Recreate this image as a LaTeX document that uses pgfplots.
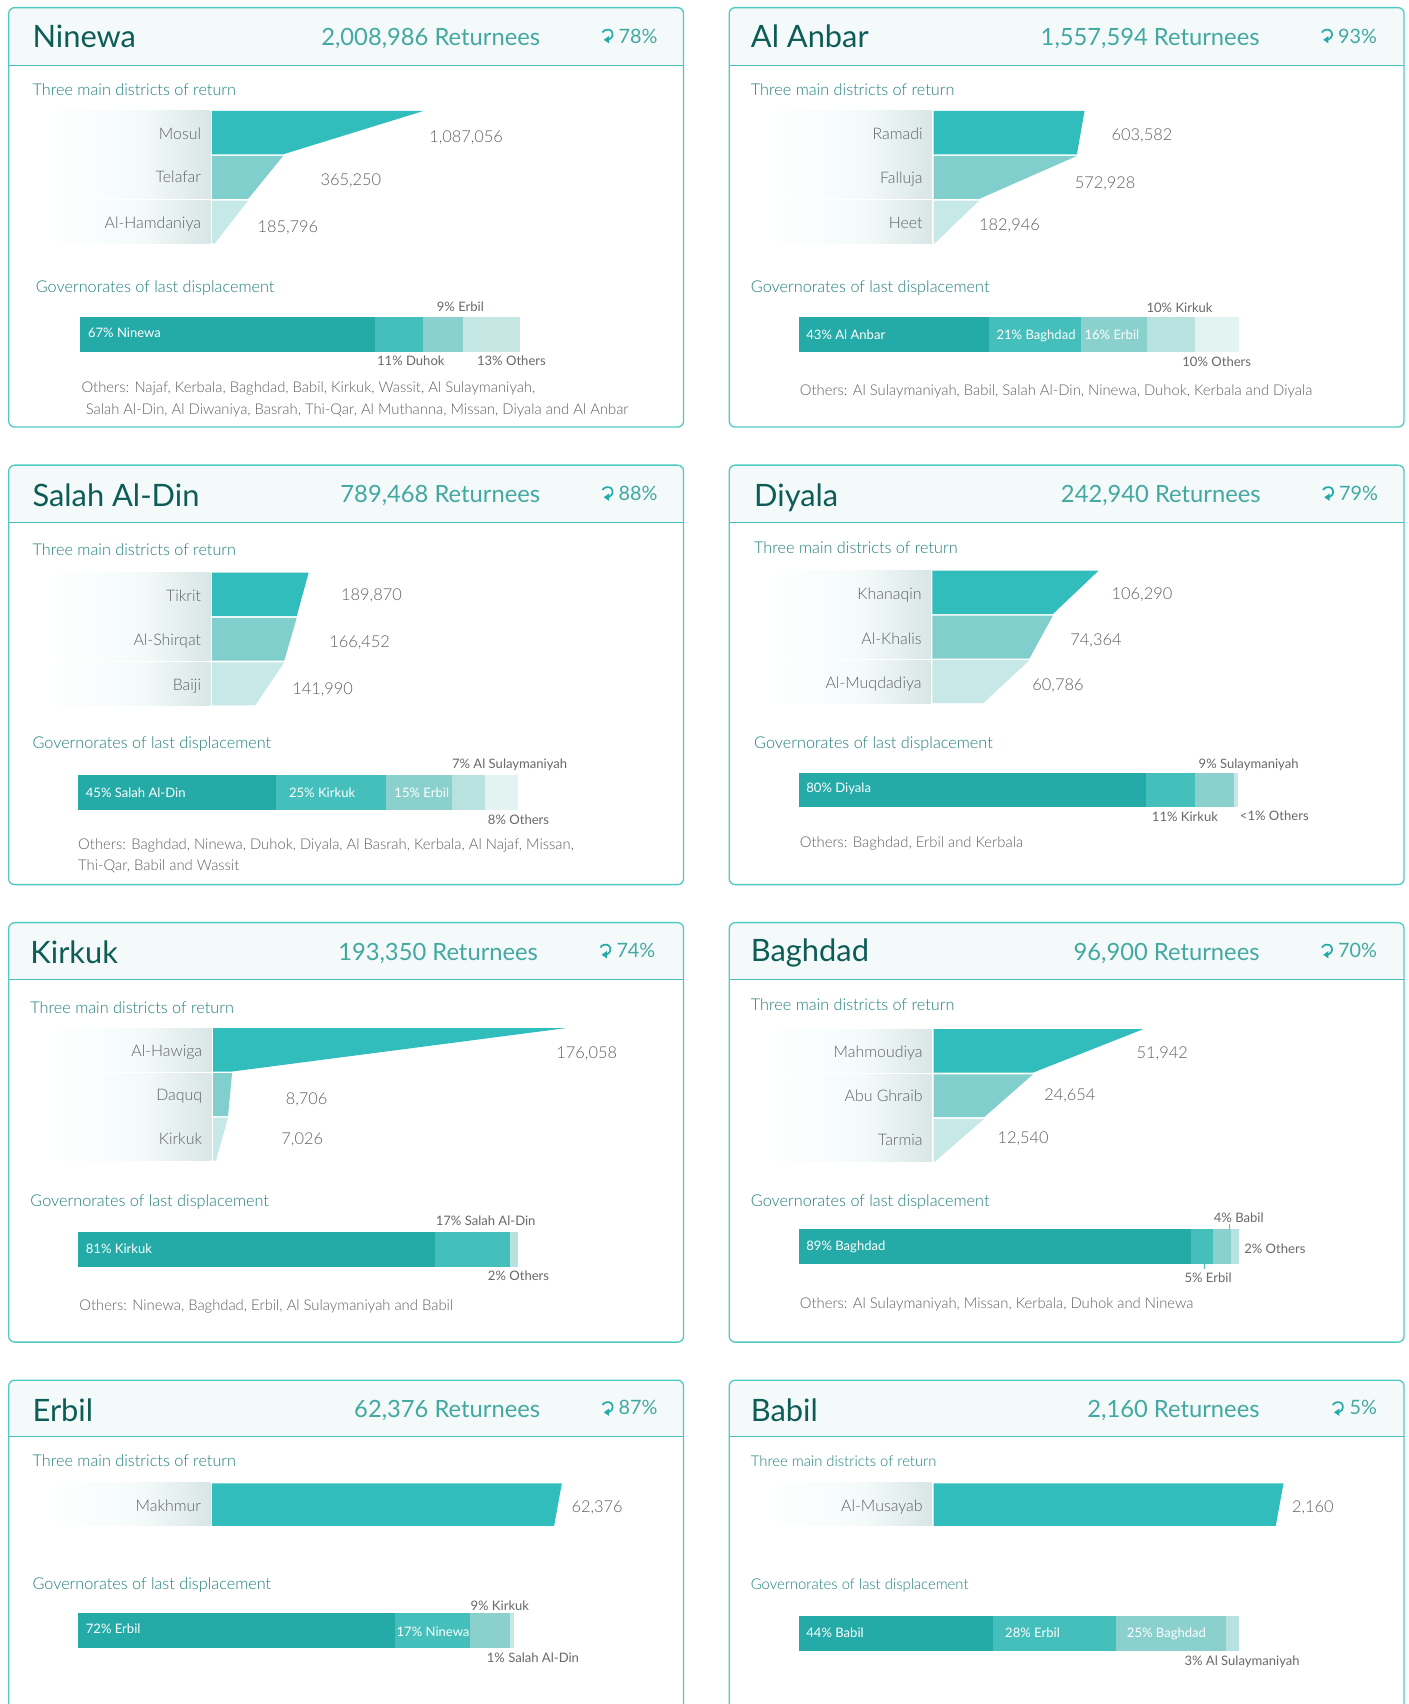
\documentclass[border=0pt]{standalone}
\usepackage{fontspec}
\usepackage{pgfplots}
\pgfplotsset{compat=1.18}
\setmainfont{Lato Light}[Scale=0.92]
\newfontfamily\reg{Lato}[Scale=0.92]
\definecolor{f1}{HTML}{31BDBC}
\definecolor{f2}{HTML}{80CFCD}
\definecolor{f3}{HTML}{C6E9E7}
\definecolor{s1}{HTML}{24ABA8}
\definecolor{s2}{HTML}{45BFBB}
\definecolor{s3}{HTML}{8AD1CE}
\definecolor{s4}{HTML}{B8E2DF}
\definecolor{s5}{HTML}{C6E8E5}
\definecolor{s6}{HTML}{E2F3F1}
\definecolor{hd}{HTML}{F3FAF9}
\definecolor{frm}{HTML}{4FCAC3}
\definecolor{ttlc}{HTML}{0E5C57}
\definecolor{retc}{HTML}{43A8A2}
\definecolor{subc}{HTML}{1F7F7A}
\definecolor{gr}{HTML}{5E6262}
\definecolor{grd}{HTML}{666A6A}
\definecolor{labr}{HTML}{D8E6E5}
\definecolor{labm}{HTML}{F4FAFA}
\definecolor{labl}{HTML}{FBFEFE}
\pgfdeclarehorizontalshading{lab}{100bp}{color(0bp)=(white);color(25bp)=(white);color(36bp)=(labl);color(55bp)=(labm);color(75bp)=(labr);color(100bp)=(labr)}
\newcommand\U{1.08642}
\tikzset{
 ttl/.style={font=\reg\fontsize{33.5}{35}\selectfont,text=ttlc},
 ret/.style={font=\reg\fontsize{25.8}{26}\selectfont,text=retc},
 pct/.style={font=\reg\fontsize{21.5}{22}\selectfont,text=retc},
 sub/.style={font=\fontsize{17.65}{18}\selectfont,text=subc},
 subs/.style={font=\fontsize{16.1}{18}\selectfont,text=subc},
 lab/.style={font=\fontsize{17.3}{18}\selectfont,text=gr},
 val/.style={font=\fontsize{17.8}{19}\selectfont,text=gr},
 sm/.style={font=\reg\fontsize{14.2}{14}\selectfont,text=grd},
 wh/.style={font=\reg\fontsize{14.2}{14}\selectfont,text=white},
 oth/.style={font=\fontsize{16.1}{16}\selectfont,text=gr},
}
\newcommand\T[5]{\node[anchor=#3,inner sep=0pt,outer sep=0pt,#4] at (#1,#2) {#5};}
\newcommand\panel[7]{% x, y top, y header, title, returnees, pct, icon x
 \fill[hd,rounded corners=6] (#1,#3) -- (#1,#2) -- (#1+621,#2) -- (#1+621,#3) -- cycle;
 \draw[frm,line width=1.3pt,rounded corners=6] (#1,#2) rectangle (#1+621,#2+386);
 \draw[s2,line width=1.3pt] (#1,#3) -- (#1+621,#3);
 \begin{scope}[shift={(#7,#2+25.5)}]
 \draw[s1,line width=1.7pt] (-4.6,-2.6) .. controls (-3.4,-5.2) and (1,-6.2) .. (3.2,-4.4) .. controls (5.6,-2.2) and (5.2,2.2) .. (1.6,3.6) -- (0,4);
 \fill[s1] (-3.4,4.1) -- (1.4,0.6) -- (1.4,7.4) -- cycle;
 \end{scope}
}
\newcommand\labbox[3]{\shade[shading=lab] (#1-158,#2) rectangle (#1-1.5,#3);}
\pgfplotsset{
 fa/.style={scale only axis,hide axis,clip=false,anchor=north west,xmin=0,ymin=0,y dir=reverse},
 sa/.style={scale only axis,hide axis,clip=false,anchor=north west,xbar stacked,xmin=0,xmax=100,ymin=-0.5,ymax=0.5,
   width=440pt,height=34.8pt,bar width=34.8pt},
}
\newcommand\funnel[6]{% x,y,pixel width,pixel height,vmax,body
 \pgfmathsetlengthmacro\WW{#3*\U pt}\pgfmathsetlengthmacro\HH{#4*\U pt}
 \pgfmathsetlengthmacro\XX{#1*\U pt}\pgfmathsetlengthmacro\YY{-#2*\U pt}
 \begin{axis}[fa,at={(\XX,\YY)},width=\WW,height=\HH,xmax=#5,ymax=#4]
 #6
 \end{axis}}
\newcommand\stack[3]{% x,y,body
 \pgfmathsetlengthmacro\XX{#1*\U pt}\pgfmathsetlengthmacro\YY{-#2*\U pt}
 \begin{axis}[sa,at={(\XX,\YY)}]
 #3
 \end{axis}}
\newcommand\seg[2]{\addplot[fill=#1,draw=none] coordinates {(#2,0)};}
\newcommand\poly[2]{\addplot[fill=#1,draw=none] coordinates {#2} -- cycle;}
\begin{document}
\begin{tikzpicture}[x=1.08642pt,y=-1.08642pt]
\useasboundingbox (0,0) rectangle (1296,1568);
\fill[white] (0,0) rectangle (1296,1568);
\clip (0,0) rectangle (1296,1568);
% ---------- Ninewa
\panel{8}{7}{60}{}{}{}{559}
\T{30}{44}{base west}{ttl}{Ninewa}
\T{497}{42}{base east}{ret}{2,008,986 Returnees}
\T{605}{40}{base east}{pct}{78\%}
\T{30}{88}{base west}{sub}{Three main districts of return}
\labbox{195}{102}{142}\labbox{195}{143.5}{183}\labbox{195}{184.5}{224}
\funnel{195}{102}{195}{122}{1087056}{
 \poly{f1}{(0,0)(1087056,0)(365250,40)(0,40)}
 \poly{f2}{(0,41.5)(365250,41.5)(185796,81)(0,81)}
 \poly{f3}{(0,82.5)(185796,82.5)(15000,122)(0,122)}
}
\T{185}{128}{base east}{lab}{Mosul}
\T{185}{168}{base east}{lab}{Telafar}
\T{185}{210}{base east}{lab}{Al-Hamdaniya}
\T{395}{131}{base west}{val}{1,087,056}
\T{295}{171}{base west}{val}{365,250}
\T{237}{214}{base west}{val}{185,796}
\T{33}{269}{base west}{sub}{Governorates of last displacement}
\stack{73.6}{292}{\seg{s1}{67}\seg{s2}{11}\seg{s3}{9}\seg{s5}{13}}
\T{81}{311}{base west}{wh}{67\% Ninewa}
\T{402}{287}{base west}{sm}{9\% Erbil}
\T{347}{336}{base west}{sm}{11\% Duhok}
\T{439}{336}{base west}{sm}{13\% Others}
\T{75}{361}{base west}{oth}{Others: Najaf, Kerbala, Baghdad, Babil, Kirkuk, Wassit, Al Sulaymaniyah,}
\T{79}{381}{base west}{oth}{Salah Al-Din, Al Diwaniya, Basrah, Thi-Qar, Al Muthanna, Missan, Diyala and Al Anbar}
% ---------- Al Anbar
\panel{671}{7}{60}{}{}{}{1221}
\T{691}{44}{base west}{ttl}{Al Anbar}
\T{1159}{42}{base east}{ret}{1,557,594 Returnees}
\T{1267}{40}{base east}{pct}{93\%}
\T{691}{88}{base west}{sub}{Three main districts of return}
\labbox{859}{102}{142}\labbox{859}{143.5}{183}\labbox{859}{184.5}{224}
\funnel{859}{102}{139}{122}{603582}{
 \poly{f1}{(0,0)(603582,0)(572928,40)(0,40)}
 \poly{f2}{(0,41.5)(572928,41.5)(182946,81)(0,81)}
 \poly{f3}{(0,82.5)(182946,82.5)(4000,122)(0,122)}
}
\T{849}{128}{base east}{lab}{Ramadi}
\T{849}{169}{base east}{lab}{Falluja}
\T{849}{210}{base east}{lab}{Heet}
\T{1023}{129}{base west}{val}{603,582}
\T{989}{173}{base west}{val}{572,928}
\T{901}{212}{base west}{val}{182,946}
\T{691}{269}{base west}{sub}{Governorates of last displacement}
\stack{735.5}{292}{\seg{s1}{43}\seg{s2}{21}\seg{s3}{15}\seg{s4}{11}\seg{s6}{10}}
\T{742}{312}{base west}{wh}{43\% Al Anbar}
\T{917}{312}{base west}{wh}{21\% Baghdad}
\T{998}{312}{base west}{wh}{16\% Erbil}
\T{1055}{288}{base west}{sm}{10\% Kirkuk}
\T{1088}{337}{base west}{sm}{10\% Others}
\T{736}{364}{base west}{oth}{Others: Al Sulaymaniyah, Babil, Salah Al-Din, Ninewa, Duhok, Kerbala and Diyala}
% ---------- Salah Al-Din
\panel{8}{428}{481}{}{}{}{559}
\T{30}{466.5}{base west}{ttl}{Salah Al-Din}
\T{497}{462}{base east}{ret}{789,468 Returnees}
\T{605}{460.5}{base east}{pct}{88\%}
\T{30}{511}{base west}{sub}{Three main districts of return}
\labbox{195}{527}{567}\labbox{195}{568.5}{608}\labbox{195}{609.5}{649}
\funnel{195}{527}{89}{122}{189870}{
 \poly{f1}{(0,0)(189870,0)(166452,40)(0,40)}
 \poly{f2}{(0,41.5)(166452,41.5)(141990,81)(0,81)}
 \poly{f3}{(0,82.5)(141990,82.5)(85000,122)(0,122)}
}
\T{185}{553.5}{base east}{lab}{Tikrit}
\T{185}{594}{base east}{lab}{Al-Shirqat}
\T{185}{635}{base east}{lab}{Baiji}
\T{314}{553}{base west}{val}{189,870}
\T{303}{596}{base west}{val}{166,452}
\T{269}{639}{base west}{val}{141,990}
\T{30}{688.5}{base west}{sub}{Governorates of last displacement}
\stack{72}{713}{\seg{s1}{45}\seg{s2}{25}\seg{s3}{15}\seg{s4}{7.5}\seg{s6}{7.5}}
\T{79}{734}{base west}{wh}{45\% Salah Al-Din}
\T{266}{734}{base west}{wh}{25\% Kirkuk}
\T{363}{734}{base west}{wh}{15\% Erbil}
\T{416}{707}{base west}{sm}{7\% Al Sulaymaniyah}
\T{449}{758.5}{base west}{sm}{8\% Others}
\T{72}{782}{base west}{oth}{Others: Baghdad, Ninewa, Duhok, Diyala, Al Basrah, Kerbala, Al Najaf, Missan,}
\T{72}{801}{base west}{oth}{Thi-Qar, Babil and Wassit}
% ---------- Diyala
\panel{671}{428}{481}{}{}{}{1222}
\T{694}{466}{base west}{ttl}{Diyala}
\T{1160}{462}{base east}{ret}{242,940 Returnees}
\T{1268}{460.5}{base east}{pct}{79\%}
\T{694}{509}{base west}{sub}{Three main districts of return}
\labbox{858}{525}{565}\labbox{858}{566.5}{606}\labbox{858}{607.5}{647}
\funnel{858}{525}{153}{122}{106290}{
 \poly{f1}{(0,0)(106290,0)(77000,40)(0,40)}
 \poly{f2}{(0,41.5)(77000,41.5)(62000,81)(0,81)}
 \poly{f3}{(0,82.5)(62000,82.5)(32500,122)(0,122)}
}
\T{848}{551.5}{base east}{lab}{Khanaqin}
\T{848}{593}{base east}{lab}{Al-Khalis}
\T{848}{633.5}{base east}{lab}{Al-Muqdadiya}
\T{1023}{552}{base west}{val}{106,290}
\T{985}{594}{base west}{val}{74,364}
\T{950}{635}{base west}{val}{60,786}
\T{694}{688.5}{base west}{sub}{Governorates of last displacement}
\stack{735}{711}{\seg{s1}{79}\seg{s2}{11}\seg{s3}{9}\seg{s5}{0.7}}
\T{742}{729.5}{base west}{wh}{80\% Diyala}
\T{1103}{707}{base west}{sm}{9\% Sulaymaniyah}
\T{1060}{756}{base west}{sm}{11\% Kirkuk}
\T{1141}{755}{base west}{sm}{<1\% Others}
\T{736}{779.5}{base west}{oth}{Others: Baghdad, Erbil and Kerbala}
% ---------- Kirkuk
\panel{8}{849}{901}{}{}{}{557}
\T{28}{887}{base west}{ttl}{Kirkuk}
\T{495}{884}{base east}{ret}{193,350 Returnees}
\T{603}{881.5}{base east}{pct}{74\%}
\T{28}{932.5}{base west}{sub}{Three main districts of return}
\labbox{196}{946}{986}\labbox{196}{987.5}{1027}\labbox{196}{1028.5}{1068}
\funnel{196}{946}{325}{122}{176058}{
 \poly{f1}{(0,0)(176058,0)(9500,40)(0,40)}
 \poly{f2}{(0,41.5)(9500,41.5)(7500,81)(0,81)}
 \poly{f3}{(0,82.5)(7500,82.5)(1500,122)(0,122)}
}
\T{186}{972}{base east}{lab}{Al-Hawiga}
\T{186}{1013}{base east}{lab}{Daquq}
\T{186}{1053}{base east}{lab}{Kirkuk}
\T{512}{974}{base west}{val}{176,058}
\T{263}{1016.5}{base west}{val}{8,706}
\T{259}{1053}{base west}{val}{7,026}
\T{28}{1110}{base west}{sub}{Governorates of last displacement}
\stack{72}{1134}{\seg{s1}{81}\seg{s2}{17}\seg{s4}{2}}
\T{79}{1153.5}{base west}{wh}{81\% Kirkuk}
\T{401}{1127.5}{base west}{sm}{17\% Salah Al-Din}
\T{449}{1178}{base west}{sm}{2\% Others}
\T{73}{1205.5}{base west}{oth}{Others: Ninewa, Baghdad, Erbil, Al Sulaymaniyah and Babil}
% ---------- Baghdad
\panel{671}{849}{901}{}{}{}{1221}
\T{691}{885}{base west}{ttl}{Baghdad}
\T{1159}{884}{base east}{ret}{96,900 Returnees}
\T{1267}{881.5}{base east}{pct}{70\%}
\T{691}{930}{base west}{sub}{Three main districts of return}
\labbox{859}{947}{987}\labbox{859}{988.5}{1028}\labbox{859}{1029.5}{1069}
\funnel{859}{947}{193}{122}{51942}{
 \poly{f1}{(0,0)(51942,0)(24654,40)(0,40)}
 \poly{f2}{(0,41.5)(24654,41.5)(12540,81)(0,81)}
 \poly{f3}{(0,82.5)(12540,82.5)(300,122)(0,122)}
}
\T{849}{973}{base east}{lab}{Mahmoudiya}
\T{849}{1013.5}{base east}{lab}{Abu Ghraib}
\T{849}{1054.5}{base east}{lab}{Tarmia}
\T{1046}{974}{base west}{val}{51,942}
\T{961}{1013}{base west}{val}{24,654}
\T{918}{1052}{base west}{val}{12,540}
\T{691}{1110}{base west}{sub}{Governorates of last displacement}
\stack{735.5}{1131}{\seg{s1}{89}\seg{s2}{5}\seg{s3}{4}\seg{s4}{2}}
\T{742}{1150.5}{base west}{wh}{89\% Baghdad}
\T{1117}{1125}{base west}{sm}{4\% Babil}
\T{1145}{1153}{base west}{sm}{2\% Others}
\T{1090}{1180}{base west}{sm}{5\% Erbil}
\draw[s2,line width=1pt] (1131,1126.5) -- (1131,1131);
\draw[s2,line width=1pt] (1108,1163) -- (1108,1168);
\T{736}{1204}{base west}{oth}{Others: Al Sulaymaniyah, Missan, Kerbala, Duhok and Ninewa}
% ---------- Erbil
\panel{8}{1270}{1322}{}{}{}{559}
\T{30}{1308}{base west}{ttl}{Erbil}
\T{497}{1304}{base east}{ret}{62,376 Returnees}
\T{605}{1302}{base east}{pct}{87\%}
\T{30}{1349}{base west}{sub}{Three main districts of return}
\labbox{195}{1364}{1404}
\funnel{195}{1365}{322}{39}{62376}{
 \poly{f1}{(0,0)(62376,0)(61000,39)(0,39)}
}
\T{185}{1391}{base east}{lab}{Makhmur}
\T{526}{1392}{base west}{val}{62,376}
\T{30}{1463}{base west}{sub}{Governorates of last displacement}
\stack{72}{1484}{\seg{s1}{72}\seg{s2}{17}\seg{s3}{9}\seg{s5}{1}}
\T{79}{1503.5}{base west}{wh}{72\% Erbil}
\T{365}{1506}{base west}{wh}{17\% Ninewa}
\T{433}{1482}{base west}{sm}{9\% Kirkuk}
\T{448}{1530}{base west}{sm}{1\% Salah Al-Din}
% ---------- Babil
\panel{671}{1270}{1322}{}{}{}{1231}
\T{691}{1308}{base west}{ttl}{Babil}
\T{1159}{1304}{base east}{ret}{2,160 Returnees}
\T{1267}{1302}{base east}{pct}{5\%}
\T{691}{1349}{base west}{subs}{Three main districts of return}
\labbox{859}{1364}{1404}
\funnel{859}{1365}{322}{39}{2160}{
 \poly{f1}{(0,0)(2160,0)(2113,39)(0,39)}
}
\T{849}{1391}{base east}{lab}{Al-Musayab}
\T{1189}{1392}{base west}{val}{2,160}
\T{691}{1463}{base west}{subs}{Governorates of last displacement}
\stack{735.5}{1487}{\seg{s1}{44}\seg{s2}{28}\seg{s3}{25}\seg{s4}{3}}
\T{742}{1507}{base west}{wh}{44\% Babil}
\T{925}{1507}{base west}{wh}{28\% Erbil}
\T{1037}{1507}{base west}{wh}{25\% Baghdad}
\T{1090}{1533}{base west}{sm}{3\% Al Sulaymaniyah}
\end{tikzpicture}
\end{document}
